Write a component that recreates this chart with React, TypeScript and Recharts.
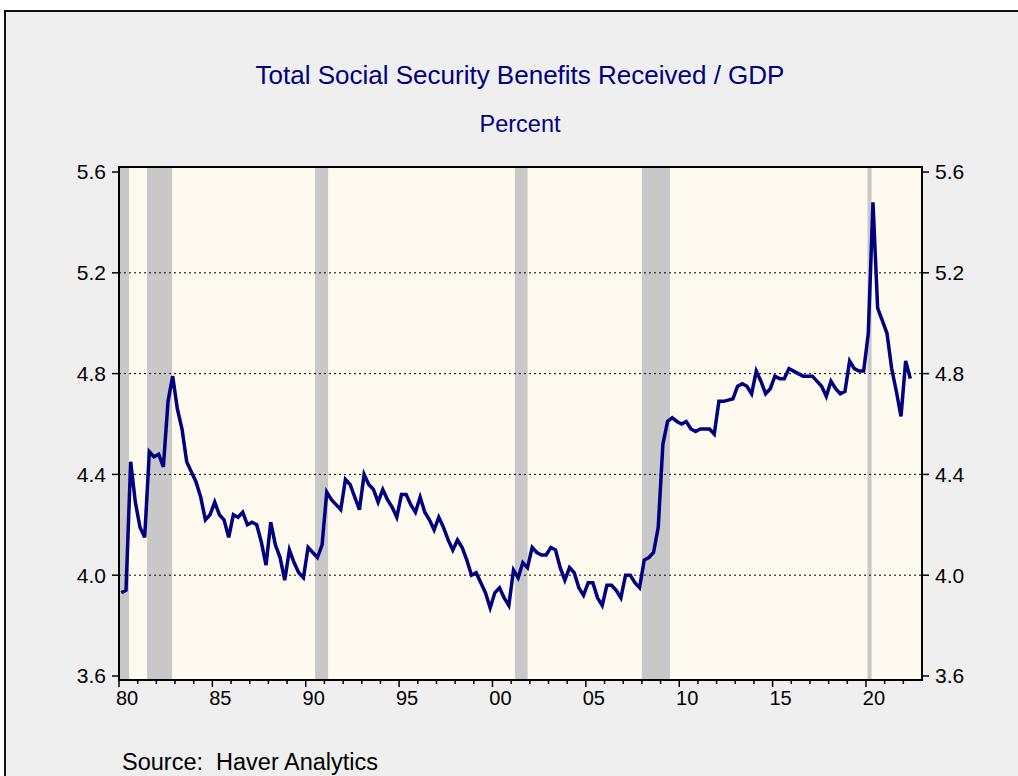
import { LineChart, Line, XAxis, YAxis, ReferenceArea, ReferenceLine } from "recharts";

// Total social security benefits received as % of GDP, quarterly from 1980Q1
const startYear = 1980;
const benefitsToGdp = [
  3.93, 3.94, 4.45, 4.29, // 1980
  4.19, 4.15, 4.49, 4.47, // 1981
  4.48, 4.43, 4.69, 4.79, // 1982
  4.66, 4.58, 4.45, 4.41, // 1983
  4.37, 4.31, 4.22, 4.24, // 1984
  4.29, 4.24, 4.22, 4.15, // 1985
  4.24, 4.23, 4.25, 4.2, // 1986
  4.21, 4.2, 4.13, 4.04, // 1987
  4.21, 4.12, 4.07, 3.98, // 1988
  4.1, 4.05, 4.01, 3.99, // 1989
  4.11, 4.09, 4.07, 4.12, // 1990
  4.33, 4.3, 4.28, 4.26, // 1991
  4.38, 4.36, 4.31, 4.26, // 1992
  4.4, 4.36, 4.34, 4.29, // 1993
  4.34, 4.3, 4.27, 4.23, // 1994
  4.32, 4.32, 4.28, 4.25, // 1995
  4.31, 4.25, 4.22, 4.18, // 1996
  4.23, 4.19, 4.14, 4.1, // 1997
  4.14, 4.11, 4.06, 4.0, // 1998
  4.01, 3.97, 3.93, 3.87, // 1999
  3.93, 3.95, 3.91, 3.88, // 2000
  4.02, 3.99, 4.05, 4.03, // 2001
  4.11, 4.09, 4.08, 4.08, // 2002
  4.11, 4.1, 4.03, 3.98, // 2003
  4.03, 4.01, 3.95, 3.92, // 2004
  3.97, 3.97, 3.91, 3.88, // 2005
  3.96, 3.96, 3.94, 3.91, // 2006
  4.0, 4.0, 3.97, 3.95, // 2007
  4.06, 4.07, 4.09, 4.19, // 2008
  4.52, 4.61, 4.625, 4.61, // 2009
  4.6, 4.61, 4.58, 4.57, // 2010
  4.58, 4.58, 4.58, 4.56, // 2011
  4.69, 4.69, 4.695, 4.7, // 2012
  4.75, 4.76, 4.75, 4.72, // 2013
  4.81, 4.77, 4.72, 4.74, // 2014
  4.79, 4.78, 4.78, 4.82, // 2015
  4.81, 4.8, 4.79, 4.79, // 2016
  4.79, 4.77, 4.75, 4.71, // 2017
  4.77, 4.74, 4.72, 4.73, // 2018
  4.85, 4.82, 4.81, 4.81, // 2019
  4.96, 5.48, 5.06, 5.01, // 2020
  4.96, 4.82, 4.73, 4.63, // 2021
  4.85, 4.78, // 2022
];

// NBER recessions (decimal years)
const recessionStart = [1980.0, 1981.5, 1990.5, 2001.2, 2008.0, 2020.08];
const recessionEnd = [1980.54, 1982.84, 1991.2, 2001.88, 2009.5, 2020.3];

const labelYears = [1980, 1985, 1990, 1995, 2000, 2005, 2010, 2015, 2020];
const labelText = ["80", "85", "90", "95", "00", "05", "10", "15", "20"];
const minorYears = Array.from({ length: 43 }, (_, i) => startYear + i);

const yTicks = [3.6, 4.0, 4.4, 4.8, 5.2, 5.6];
const gridLevels = [4.0, 4.4, 4.8, 5.2];
const yMin = 3.584;
const yMax = 5.62;
const xMin = 1980;
const xMax = 2023;

// plot each quarter at its midpoint
const data = benefitsToGdp.map((v, i) => ({
  t: startYear + Math.floor(i / 4) + (i % 4) / 4 + 0.125,
  value: v,
}));

const navy = "#000080";

function YearTick(props: any) {
  const { x, y, payload } = props;
  const idx = labelYears.indexOf(payload.value);
  const major = idx >= 0;
  return (
    <g>
      <line x1={x} y1={y} x2={x} y2={y + (major ? 7 : 4)} stroke="#000" strokeWidth={1.5} />
      {major && (
        <text x={x + 8} y={y + 25} textAnchor="middle" fontSize={20} fill="#000">
          {labelText[idx]}
        </text>
      )}
    </g>
  );
}

export default function App() {
  return (
    <div
      style={{
        position: "absolute",
        left: 0,
        top: 0,
        width: 1018,
        height: 776,
        background: "#fff",
        overflow: "hidden",
        fontFamily: "'Liberation Sans', Arial, sans-serif",
      }}
    >
      <div
        style={{
          position: "absolute",
          left: 4,
          top: 10,
          width: 1030,
          height: 780,
          background: "#efefef",
          borderTop: "2px solid #111",
          borderLeft: "2px solid #111",
        }}
      />
      <div
        style={{
          position: "absolute",
          left: 0,
          width: 1040,
          top: 62,
          textAlign: "center",
          fontSize: 26,
          lineHeight: "26px",
          color: navy,
          whiteSpace: "nowrap",
        }}
      >
        Total Social Security Benefits Received / GDP
      </div>
      <div
        style={{
          position: "absolute",
          left: 0,
          width: 1040,
          top: 113,
          textAlign: "center",
          fontSize: 23.5,
          lineHeight: "23.5px",
          color: navy,
        }}
      >
        Percent
      </div>
      <div
        style={{
          position: "absolute",
          left: 122,
          top: 751,
          fontSize: 23.5,
          lineHeight: "23.5px",
          color: "#000",
          whiteSpace: "pre",
        }}
      >
        {"Source:  Haver Analytics"}
      </div>
      <div style={{ position: "absolute", left: 0, top: 0 }}>
        <LineChart
          width={1018}
          height={776}
          data={data}
          margin={{ top: 167, right: 36, bottom: 66, left: 59 }}
        >
          <XAxis
            dataKey="t"
            type="number"
            domain={[xMin, xMax]}
            ticks={minorYears}
            interval={0}
            tick={<YearTick />}
            tickSize={0}
            tickMargin={0}
            tickLine={false}
            axisLine={{ stroke: "#000", strokeWidth: 2 }}
            height={30}
            allowDataOverflow
          />
          <YAxis
            yAxisId="left"
            orientation="left"
            domain={[yMin, yMax]}
            ticks={yTicks}
            interval={0}
            width={60}
            tickSize={7}
            tickMargin={6}
            tickFormatter={(v: number) => v.toFixed(1)}
            tick={{ fill: "#000", fontSize: 21 }}
            tickLine={{ stroke: "#000", strokeWidth: 1.5 }}
            axisLine={{ stroke: "#000", strokeWidth: 2 }}
            allowDataOverflow
          />
          <YAxis
            yAxisId="right"
            orientation="right"
            domain={[yMin, yMax]}
            ticks={yTicks}
            interval={0}
            width={60}
            tickSize={7}
            tickMargin={6}
            tickFormatter={(v: number) => v.toFixed(1)}
            tick={{ fill: "#000", fontSize: 21, textAnchor: "start" }}
            tickLine={{ stroke: "#000", strokeWidth: 1.5 }}
            axisLine={{ stroke: "#000", strokeWidth: 2 }}
            allowDataOverflow
          />
          <ReferenceArea
            yAxisId="left"
            x1={xMin}
            x2={xMax}
            y1={yMin}
            y2={yMax}
            fill="#fffaef"
            fillOpacity={1}
            stroke="none"
          />
          {recessionStart.map((s, i) => (
            <ReferenceArea
              key={"r" + i}
              yAxisId="left"
              x1={s}
              x2={recessionEnd[i]}
              y1={yMin}
              y2={yMax}
              fill="#c8c8c8"
              fillOpacity={1}
              stroke="none"
            />
          ))}
          {gridLevels.map((g) => (
            <ReferenceLine
              key={"g" + g}
              yAxisId="left"
              y={g}
              stroke="#000"
              strokeWidth={1}
              strokeDasharray="2 3"
            />
          ))}
          <Line
            yAxisId="left"
            type="linear"
            dataKey="value"
            stroke={navy}
            strokeWidth={3.5}
            dot={false}
            isAnimationActive={false}
          />
          <ReferenceArea
            yAxisId="left"
            x1={xMin}
            x2={xMax}
            y1={yMin}
            y2={yMax}
            fill="none"
            stroke="#000"
            strokeWidth={2}
          />
        </LineChart>
      </div>
    </div>
  );
}
